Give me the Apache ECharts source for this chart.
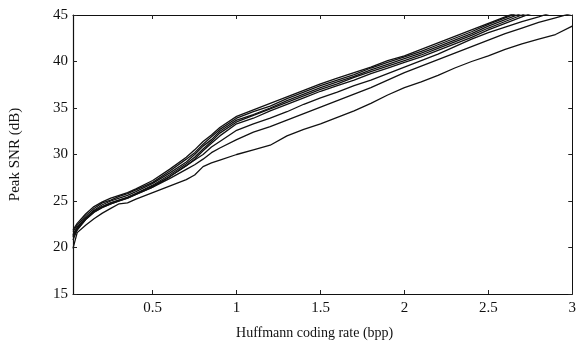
<!DOCTYPE html>
<html>
<head>
<meta charset="utf-8">
<script src="https://cdn.jsdelivr.net/npm/echarts@6/dist/echarts.min.js"></script>
<style>html,body{margin:0;padding:0;background:#fff;}#c{width:579px;height:345px;}</style>
</head>
<body>
<div id="c"></div>
<script>
var rates = [0.025,0.05,0.1,0.15,0.2,0.25,0.3,0.35,0.4,0.5,0.6,0.7,0.75,0.8,0.85,0.9,1.0,1.1,1.2,1.3,1.4,1.5,1.6,1.7,1.8,1.9,2.0,2.1,2.2,2.3,2.4,2.5,2.6,2.7,2.8,2.9,3.0];
var psnr1 = [21.9,22.6,23.6,24.4,24.9,25.3,25.6,25.9,26.3,27.2,28.4,29.7,30.5,31.4,32.1,32.9,34.1,34.8,35.5,36.2,36.9,37.6,38.2,38.8,39.4,40.1,40.6,41.3,42.0,42.7,43.4,44.1,44.8,45.5,46.2,46.9,47.6];
var psnr2 = [21.7,22.4,23.4,24.2,24.8,25.1,25.5,25.8,26.2,27.0,28.2,29.5,30.2,31.1,31.9,32.7,33.9,34.6,35.2,36.0,36.7,37.4,38.0,38.6,39.3,39.9,40.5,41.1,41.8,42.5,43.2,44.0,44.7,45.4,46.1,46.8,47.5];
var psnr3 = [21.4,22.2,23.2,24.0,24.6,25.0,25.3,25.6,26.0,26.9,28.0,29.2,30.0,30.9,31.6,32.5,33.7,34.3,35.0,35.8,36.5,37.2,37.8,38.4,39.1,39.7,40.3,40.9,41.6,42.3,43.0,43.8,44.5,45.2,45.9,46.6,47.3];
var psnr4 = [21.2,22.0,23.1,23.9,24.4,24.8,25.1,25.4,25.8,26.7,27.8,29.0,29.7,30.6,31.4,32.3,33.5,34.2,34.9,35.6,36.3,37.0,37.6,38.3,38.9,39.5,40.1,40.7,41.4,42.1,42.8,43.6,44.3,45.0,45.7,46.4,47.1];
var psnr5 = [20.8,21.9,23.0,23.8,24.3,24.7,25.0,25.3,25.7,26.5,27.6,28.8,29.5,30.4,31.2,32.0,33.3,33.9,34.7,35.4,36.1,36.8,37.4,38.0,38.7,39.3,39.9,40.5,41.2,41.9,42.6,43.4,44.1,44.8,45.5,46.2,46.9];
var psnr6 = [21.3,22.1,23.1,23.9,24.4,24.8,25.1,25.4,25.8,26.6,27.6,28.8,29.4,30.0,30.8,31.4,32.6,33.3,33.9,34.6,35.4,36.1,36.7,37.4,38.0,38.7,39.4,40.1,40.8,41.6,42.4,43.1,43.7,44.3,44.8,45.4,46.0];
var psnr7 = [21.1,21.9,23.0,23.8,24.3,24.7,25.0,25.3,25.7,26.5,27.4,28.4,28.9,29.5,30.2,30.7,31.6,32.4,33.0,33.7,34.4,35.1,35.8,36.5,37.2,38.0,38.8,39.5,40.2,40.9,41.6,42.3,43.0,43.6,44.2,44.7,45.2];
var psnr8 = [19.9,21.6,22.4,23.1,23.7,24.2,24.7,24.8,25.2,25.9,26.6,27.3,27.8,28.7,29.1,29.4,30.0,30.5,31.0,32.0,32.7,33.3,34.0,34.7,35.5,36.4,37.2,37.8,38.5,39.3,40.0,40.6,41.3,41.9,42.4,42.9,43.8];
var xTicks = [0.5,1,1.5,2,2.5,3];
var yTicks = [15,20,25,30,35,40,45];
var xTitle = 'Huffmann coding rate (bpp)';
var yTitle = 'Peak SNR (dB)';

var allSeries = [psnr1,psnr2,psnr3,psnr4,psnr5,psnr6,psnr7,psnr8];
var font = 'Liberation Serif';
var chart = echarts.init(document.getElementById('c'), null, {renderer:'canvas'});
function pairs(arr){ return rates.map(function(x,i){ return [x, arr[i]]; }); }
var series = allSeries.map(function(a){
  return {type:'line', data:pairs(a), showSymbol:false, symbol:'none', clip:true,
    lineStyle:{color:'#111', width:1.3}, silent:true};
});
var tickStyle = {show:true, inside:true, length:4, lineStyle:{color:'#222', width:1}};
chart.setOption({
  animation:false,
  backgroundColor:'#fff',
  grid:{left:73, right:4, top:15, bottom:50, containLabel:false},
  xAxis:[{
    type:'value', min:0.025, max:3, position:'bottom',
    name:xTitle, nameLocation:'middle', nameGap:32,
    nameTextStyle:{fontFamily:font, fontSize:14, color:'#111', padding:[0,16,0,0]},
    axisLine:{show:true, onZero:false, lineStyle:{color:'#111', width:1.2}},
    axisTick:Object.assign({customValues:xTicks}, tickStyle),
    axisLabel:{customValues:xTicks, fontFamily:font, fontSize:15, color:'#111', margin:7},
    splitLine:{show:false}
  },{
    type:'value', min:0.025, max:3, position:'top',
    axisLine:{show:true, onZero:false, lineStyle:{color:'#111', width:1}},
    axisTick:Object.assign({customValues:xTicks}, tickStyle),
    axisLabel:{show:false}, splitLine:{show:false}
  }],
  yAxis:[{
    type:'value', min:15, max:45, interval:5, position:'left',
    name:yTitle, nameLocation:'middle', nameGap:50, nameRotate:90,
    nameTextStyle:{fontFamily:font, fontSize:15, color:'#111'},
    axisLine:{show:true, onZero:false, lineStyle:{color:'#111', width:1.2}},
    axisTick:tickStyle,
    axisLabel:{fontFamily:font, fontSize:15, color:'#111', margin:5},
    splitLine:{show:false}
  },{
    type:'value', min:15, max:45, interval:5, position:'right',
    axisLine:{show:true, onZero:false, lineStyle:{color:'#111', width:1}},
    axisTick:tickStyle, axisLabel:{show:false}, splitLine:{show:false}
  }],
  series:series
});
</script>
</body>
</html>
